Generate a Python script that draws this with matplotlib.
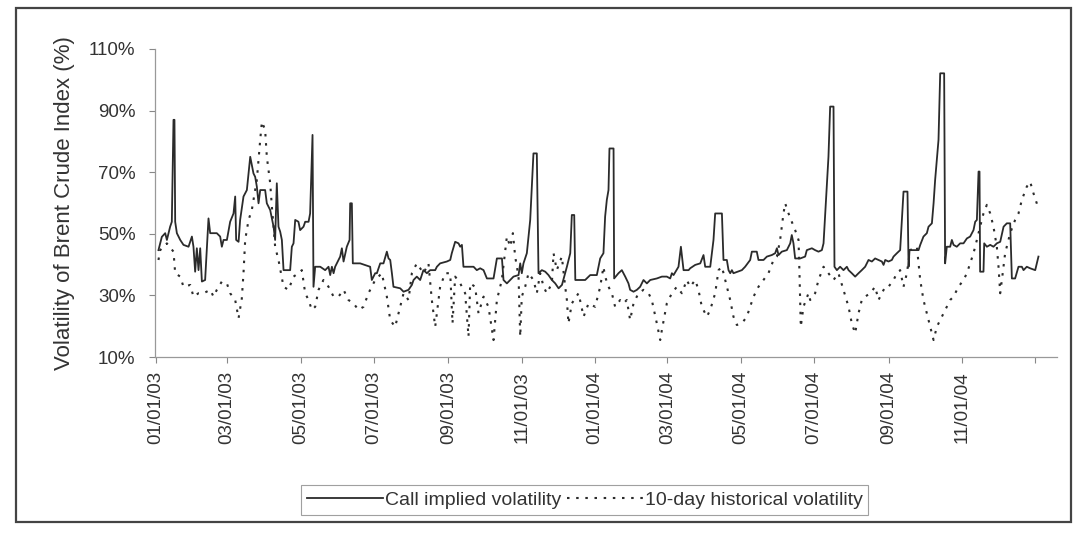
import numpy as np
import pandas as pd
import matplotlib
matplotlib.use("Agg")
import matplotlib.pyplot as plt
from matplotlib.patches import Rectangle

plt.rcParams['font.family'] = ['Liberation Sans', 'DejaVu Sans']

start = pd.Timestamp('2003-01-01')

# call implied volatility (% ), days counted from 01/01/03
implied_days = [
    1.9, 4.7, 7.5, 8.9, 11.6, 13.0, 14.4, 15.2, 15.8, 17.2, 20.0, 22.7, 26.9, 29.7,
    31.0, 32.4, 33.8, 35.2, 36.6, 38.0, 40.7, 43.5, 44.9, 50.4, 53.2, 54.6, 56.0,
    58.8, 61.5, 64.3, 65.7, 66.5, 68.5, 69.8, 72.6, 75.4, 78.2, 80.9, 82.3, 83.7,
    85.1, 86.5, 90.6, 92.0, 94.8, 97.6, 98.9, 100.3, 101.7, 103.1, 104.5, 105.9,
    111.4, 112.8, 114.2, 115.6, 118.3, 119.7, 122.5, 123.9, 126.7, 128.0, 130.0,
    130.8, 132.2, 136.4, 140.5, 143.3, 144.7, 146.1, 147.5, 148.8, 151.6, 153.0,
    154.4, 155.8, 158.5, 160.8, 161.3, 162.7, 163.5, 169.6, 177.9, 179.3, 182.1,
    183.5, 186.3, 189.0, 191.8, 193.2, 194.6, 196.0, 197.3, 202.9, 205.7, 209.8,
    212.6, 214.0, 216.7, 219.5, 222.2, 225.1, 227.8, 232.0, 233.4, 236.1, 241.7,
    244.5, 245.8, 248.6, 251.4, 252.8, 254.2, 255.5, 263.9, 266.6, 269.4, 272.2,
    275.0, 280.5, 283.3, 287.5, 288.8, 291.6, 297.1, 301.3, 302.7, 304.0, 305.4,
    308.2, 311.0, 313.7, 316.5, 317.9, 320.7, 323.5, 326.2, 329.0, 331.8, 334.6,
    337.4, 341.5, 344.3, 345.6, 347.6, 348.5, 356.7, 360.9,
    366.4, 369.2, 371.9, 373.3, 374.7, 376.1, 376.9, 380.3, 380.8, 384.4, 387.2,
    390.0, 392.7, 394.1, 396.9, 399.7, 402.4, 405.2, 408.0, 410.8, 416.3, 420.5,
    424.6, 427.4, 428.8, 430.2, 434.3, 436.3, 438.5, 442.7, 444.0, 448.2, 452.4,
    455.1, 456.5, 460.7, 462.1, 463.4, 464.8, 470.4, 471.7, 474.5, 475.9, 477.3,
    478.7, 480.0, 487.0, 489.7, 493.9, 495.3, 499.4, 500.8, 505.0, 507.8, 511.9,
    514.7, 516.1, 517.5, 520.2, 524.4, 527.2, 528.5, 529.9, 531.3, 535.5, 539.6,
    541.0, 545.2,
    547.9, 550.7, 553.5, 554.9, 556.3, 557.6, 559.0, 560.4, 563.2, 564.0, 566.0,
    568.7, 571.5, 574.3, 575.7, 578.4, 581.2, 584.0, 586.7, 589.5, 592.3, 595.1,
    597.8, 600.6, 603.4, 604.8, 606.2, 608.9, 611.7, 613.1, 615.9, 618.6, 621.4,
    624.7, 625.6, 626.4, 633.9, 635.3, 638.0, 640.8, 642.2, 645.0, 646.4, 647.7,
    650.5, 651.9, 655.2, 656.0, 657.4, 660.2, 661.6, 663.0, 665.7, 668.5, 671.3,
    674.1, 676.8, 679.6, 681.0, 682.4, 683.8, 684.6, 685.1, 687.9, 688.5, 690.7,
    693.5, 696.2, 699.0, 701.8, 704.6, 707.3, 710.1, 711.5, 714.2, 717.0, 719.8,
    721.2, 723.9, 726.7, 730.9, 733.6,
]
implied_vol = [
    44.7, 49.0, 50.2, 48.0, 52.3, 53.9, 87.0, 87.0, 53.9, 50.2, 48.0, 46.4, 45.8, 49.1,
    45.8, 37.7, 45.3, 38.2, 45.3, 34.5, 35.0, 55.0, 50.2, 50.2, 49.1, 45.8, 48.0,
    48.0, 53.9, 56.6, 62.1, 48.0, 47.4, 54.5, 62.1, 64.2, 75.0, 69.6, 68.5, 65.3,
    59.9, 64.2, 64.2, 59.9, 57.7, 52.3, 48.0, 66.4, 52.3, 50.7, 48.0, 38.2,
    38.2, 45.8, 46.9, 54.5, 53.9, 51.2, 52.3, 53.9, 53.9, 56.6, 82.1,
    32.8, 39.3, 39.3, 38.2, 39.3, 36.6, 39.3, 37.2, 39.3, 41.5, 42.6,
    45.3, 41.0, 45.8, 48.0, 59.9, 59.9, 40.4, 40.4, 39.3, 35.0, 37.2,
    37.2, 40.4, 40.4, 44.2, 42.0, 41.5, 37.2, 32.8, 32.3, 31.2, 31.8,
    33.4, 35.0, 36.1, 35.0, 38.2, 37.2, 38.2, 38.2, 39.3, 40.4, 41.0,
    41.5, 43.7, 47.4, 46.9, 45.8, 46.4, 39.3, 39.3, 38.2, 38.8, 38.2,
    35.5, 35.5, 42.0, 42.0, 35.0, 33.9, 36.1, 36.6, 40.4, 37.2, 40.4,
    43.7, 54.5, 76.1, 76.1, 37.2, 38.2, 37.7, 36.6, 35.0, 33.9, 32.3,
    33.4, 39.3, 43.7, 56.1, 56.1, 35.0, 35.0, 36.6,
    36.6, 42.0, 43.7, 55.6, 61.0, 64.2, 77.7, 77.7, 35.5, 37.2, 38.2,
    36.1, 33.9, 31.8, 31.2, 31.8, 32.8, 35.0, 33.9, 35.0, 35.5, 36.1,
    36.1, 35.5, 37.2, 36.6, 39.3, 45.8, 38.2, 38.2, 38.8, 39.9, 40.4,
    43.1, 39.3, 39.3, 43.7, 48.0, 56.6, 56.6, 41.5, 41.5, 38.2, 37.2,
    38.2, 37.2, 38.2, 39.3, 41.5, 44.2, 44.2, 41.5, 41.5, 42.6, 43.1,
    43.7, 45.3, 43.1, 44.2, 44.7, 46.9, 49.6, 46.9, 42.0, 42.0, 42.6,
    44.7, 45.3,
    44.7, 44.2, 44.7, 46.9, 56.6, 65.3, 75.0, 91.3, 91.3, 39.3, 38.2,
    39.3, 38.2, 39.3, 38.2, 37.2, 36.1, 37.2, 38.2, 39.3, 41.5, 41.0,
    42.0, 41.5, 41.0, 39.9, 41.5, 41.0, 41.5, 42.6, 43.7, 44.7, 63.7,
    63.7, 39.3, 44.7, 44.7, 46.4, 49.1, 50.2, 52.3, 53.4, 59.9, 67.5,
    80.5, 102.1, 102.1, 40.4, 45.8, 45.8, 48.0, 46.4, 45.8, 46.9, 46.9,
    48.5, 49.1, 51.2, 53.9, 54.5, 70.2, 70.2, 37.7, 37.7, 46.9, 45.8,
    46.4, 45.8, 46.9, 47.4, 52.3, 53.4, 53.4, 35.5, 35.5, 39.3, 39.3,
    38.2, 39.3, 38.8, 38.2, 42.6,
]

# 10-day historical volatility (%)
hist_days = [
    1.9, 3.3, 8.9, 14.4, 15.8, 20.0, 22.7, 28.3, 31.0, 35.2, 39.4, 44.9, 47.7, 50.4,
    54.6, 58.8, 61.5, 65.7, 68.5, 71.2, 72.6, 74.0, 76.8, 79.5, 83.7, 86.5, 87.9,
    90.6, 92.0, 94.8, 96.2, 97.6, 98.9, 101.7, 105.9, 110.0, 114.2, 118.3, 121.1,
    123.9, 126.7, 129.4, 132.2, 135.0, 139.1, 143.3, 147.5, 151.6, 155.8, 159.9,
    164.1, 168.2, 172.4, 176.5, 180.7,
    182.1, 187.6, 191.8, 194.6, 198.7, 202.9, 205.7, 209.8, 212.6, 216.7, 222.3,
    226.4, 229.2, 232.0, 233.4, 236.1, 240.3, 244.5, 246.4, 248.6, 252.8, 256.9,
    259.7, 261.1, 265.2, 268.0, 272.2, 276.3, 280.5, 283.3, 287.4, 291.6, 294.4,
    296.6, 298.5, 301.3, 302.7, 304.0, 306.8, 309.6, 313.7, 316.5, 319.3, 322.1,
    324.8, 329.0, 330.4, 333.1, 337.3, 340.1, 341.5, 342.8, 345.6, 351.2, 355.4,
    359.5,
    365.0, 369.2, 371.9, 373.3, 376.1, 378.9, 381.6, 385.8, 388.6, 391.3, 394.1,
    396.9, 401.0, 405.2, 409.4, 412.1, 416.3, 419.1, 420.5, 424.6, 428.8, 432.9,
    437.1, 441.2, 444.0, 448.2, 450.9, 453.7, 457.9, 460.7, 464.8, 467.6, 470.4,
    474.5, 477.3, 480.0, 482.8, 487.0, 491.1, 493.9, 496.7, 500.8, 505.0, 509.1,
    513.3, 516.1, 518.8, 521.6, 523.0, 525.8, 528.5, 531.3, 534.1, 534.9, 536.0,
    538.2, 542.4,
    543.8, 547.9, 550.7, 554.9, 559.0, 563.2, 567.3, 571.5, 575.7, 578.4, 581.2,
    584.0, 586.7, 589.5, 593.7, 597.8, 600.6, 603.4, 606.2, 608.9, 613.1, 615.9,
    618.6, 621.4, 624.2, 626.9, 632.5, 635.3, 638.0, 640.8, 643.6, 646.4, 649.1,
    651.9, 654.7, 657.4, 660.2, 663.0, 667.1, 671.3, 674.1, 676.8, 679.6, 682.4,
    685.1, 687.9, 690.7, 693.5, 696.2, 699.0, 700.4, 701.8, 703.2, 705.9, 710.1,
    714.2, 717.0, 719.8, 723.9, 726.7, 729.5, 732.2, 733.6,
]
hist_vol = [
    41.5, 44.7, 46.9, 44.2, 37.2, 36.1, 32.8, 33.4, 29.6, 30.7, 30.7, 31.8, 29.6, 31.8,
    34.5, 33.9, 30.7, 28.5, 22.6, 29.0, 37.2, 48.0, 54.5, 57.7, 67.5, 80.5, 86.4,
    83.7, 75.0, 66.4, 58.8, 52.3, 45.8, 41.5, 32.8, 31.8, 36.1, 37.2, 38.2,
    30.7, 28.5, 25.3, 26.3, 31.8, 35.0, 32.8, 29.6, 29.6, 31.8, 28.5,
    27.4, 25.3, 26.3, 30.7, 33.9,
    35.0, 37.2, 29.6, 22.0, 19.8, 26.3, 30.7, 28.5, 37.2, 40.4, 37.2,
    40.4, 28.5, 19.8, 24.2, 32.8, 37.2, 37.2, 20.9, 36.1, 33.9, 30.7,
    16.6, 33.9, 32.8, 24.2, 29.6, 26.3, 15.5, 28.5, 35.0, 49.1, 45.8,
    50.2, 42.6, 36.1, 16.6, 29.6, 32.8, 37.2, 35.0, 30.7, 37.2, 32.8,
    30.7, 33.9, 43.7, 38.2, 42.6, 32.8, 28.5, 20.9, 27.4, 30.7, 23.1,
    27.4,
    26.3, 32.8, 39.3, 36.1, 32.8, 30.7, 26.3, 28.5, 27.4, 28.5, 22.0,
    27.4, 30.7, 31.8, 30.7, 28.5, 20.9, 15.5, 18.8, 27.4, 30.7, 32.8,
    30.7, 35.0, 32.8, 35.0, 31.8, 26.3, 23.1, 25.3, 30.7, 38.2, 39.3,
    32.8, 28.5, 23.1, 20.4, 20.9, 23.1, 26.3, 29.6, 32.8, 35.0, 37.2,
    41.5, 42.6, 48.0, 56.6, 59.9, 56.6, 53.9, 51.2, 48.0, 37.2, 19.8,
    26.3, 30.7,
    28.5, 30.7, 35.0, 39.3, 37.2, 35.0, 37.2, 31.8, 26.3, 20.9, 17.7,
    24.2, 28.5, 29.6, 30.7, 32.8, 28.5, 30.7, 32.8, 32.8, 35.0, 37.2,
    38.2, 32.8, 37.2, 44.7, 45.8, 35.0, 28.5, 24.2, 19.8, 15.5, 19.8,
    22.0, 24.2, 26.3, 28.5, 29.6, 32.8, 35.0, 37.2, 40.4, 43.7, 48.0,
    52.3, 56.6, 59.4, 56.6, 52.3, 45.8, 39.3, 30.7, 35.0, 43.7, 50.2,
    54.5, 56.6, 61.0, 65.3, 66.9, 63.1, 59.9, 57.7,
]

tick_labels = ['01/01/03', '03/01/03', '05/01/03', '07/01/03', '09/01/03', '11/01/03',
               '01/01/04', '03/01/04', '05/01/04', '07/01/04', '09/01/04', '11/01/04']
y_ticks = [10, 30, 50, 70, 90, 110]

implied_dates = start + pd.to_timedelta(implied_days, unit='D')
hist_dates = start + pd.to_timedelta(hist_days, unit='D')

fig = plt.figure(figsize=(10.77, 5.33), dpi=100)
ax = fig.add_axes([0.1439, 0.3302, 0.8375, 0.5779])

ax.plot(implied_dates, implied_vol, color='#2b2b2b', lw=1.3, label='Call implied volatility')
ax.plot(hist_dates, hist_vol, color='#2b2b2b', lw=1.5, linestyle=(0, (1.2, 3.2)),
        label='10-day historical volatility')

ax.set_xlim(start - pd.Timedelta(days=1), start + pd.Timedelta(days=749))
ax.set_ylim(10, 110)

tick_dates = [pd.to_datetime(t, format='%m/%d/%y') for t in tick_labels]
ax.set_xticks(tick_dates + [pd.Timestamp('2005-01-01')])
ax.set_xticklabels(tick_labels + [''], rotation=90, fontsize=13.5, color='#333333')
ax.set_yticks(y_ticks)
ax.set_yticklabels([f'{v}%' for v in y_ticks], fontsize=13.5, color='#333333')
ax.tick_params(axis='both', length=4, width=0.8, color='#888888')
ax.tick_params(axis='x', pad=6)
ax.tick_params(axis='y', pad=10)

for s in ['top', 'right']:
    ax.spines[s].set_visible(False)
for s in ['left', 'bottom']:
    ax.spines[s].set_color('#999999')
    ax.spines[s].set_linewidth(0.9)

ax.set_ylabel('Volatility of Brent Crude Index (%)', fontsize=16, color='#333333', labelpad=10)

leg = fig.legend(loc='center', bbox_to_anchor=(0.543, 0.062), ncol=2, frameon=True,
                 fancybox=False, handlelength=3.9, handletextpad=0.1, columnspacing=0.3,
                 borderpad=0.3, prop={'size': 14})
leg.get_frame().set_edgecolor('#888888')
leg.get_frame().set_linewidth(0.8)
for t in leg.get_texts():
    t.set_color('#333333')

fig.add_artist(Rectangle((0.015, 0.021), 0.979, 0.964, transform=fig.transFigure,
                         fill=False, edgecolor='#444444', linewidth=1.6))

fig.savefig('out.png', dpi=100)
